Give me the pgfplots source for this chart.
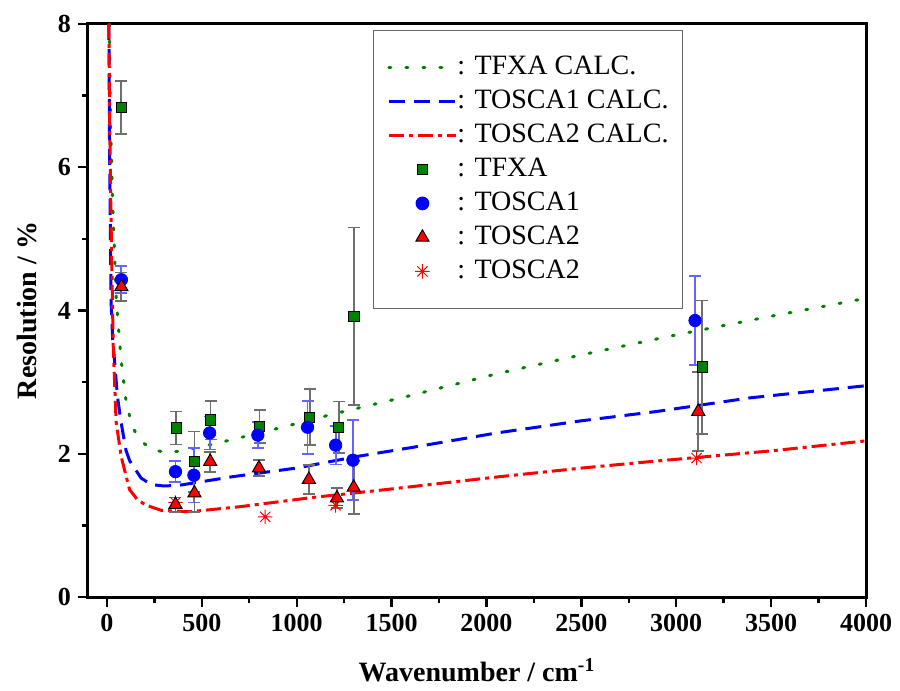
\documentclass[border=0pt]{standalone}
\usepackage{fontspec}
\setmainfont{Liberation Serif}
\usepackage{pgfplots}
\pgfplotsset{compat=1.18}
\definecolor{cgreen}{RGB}{0,128,0}
\definecolor{cblue}{RGB}{0,0,255}
\definecolor{cred}{RGB}{255,0,0}
\definecolor{ebgray}{RGB}{110,110,110}
\definecolor{ebblue}{RGB}{100,100,255}
\pgfdeclareplotmark{ast8}{%
  \pgfpathmoveto{\pgfqpoint{0pt}{\pgfplotmarksize}}\pgfpathlineto{\pgfqpoint{0pt}{-\pgfplotmarksize}}%
  \pgfpathmoveto{\pgfqpoint{\pgfplotmarksize}{0pt}}\pgfpathlineto{\pgfqpoint{-\pgfplotmarksize}{0pt}}%
  \pgfpathmoveto{\pgfqpoint{.7071\pgfplotmarksize}{.7071\pgfplotmarksize}}\pgfpathlineto{\pgfqpoint{-.7071\pgfplotmarksize}{-.7071\pgfplotmarksize}}%
  \pgfpathmoveto{\pgfqpoint{-.7071\pgfplotmarksize}{.7071\pgfplotmarksize}}\pgfpathlineto{\pgfqpoint{.7071\pgfplotmarksize}{-.7071\pgfplotmarksize}}%
  \pgfusepathqstroke}
\pgfplotsset{
  lineleg/.style={legend image code/.code={\draw[##1] (0pt,0pt) -- (33.5pt,0pt);}},
  markleg/.style={legend image code/.code={\draw[mark repeat=2,mark phase=2,##1] plot coordinates {(0pt,0pt)(16.75pt,0pt)(33.5pt,0pt)};}},
  starstyle/.style={only marks, mark=ast8, mark size=3.6pt, mark options={draw=cred, line width=0.5pt, solid}, markleg},
}
\begin{document}
\begin{tikzpicture}
\begin{axis}[
  name=ax,
  scale only axis, width=389pt, height=286.5pt,
  xmin=-100, xmax=4000, ymin=0, ymax=8,
  xtick={0,500,...,4000}, minor x tick num=1,
  ytick={0,2,...,8}, minor y tick num=1,
  tick align=outside, tick pos=left,
  major tick length=5pt, minor tick length=3pt,
  every tick/.style={black, line width=1.2pt},
  axis line style={line width=1.5pt},
  ticklabel style={font=\fontsize{13}{15}\selectfont\bfseries},
  /pgf/number format/assume math mode=true,
  /pgf/number format/1000 sep={},
  xlabel={Wavenumber / cm\textsuperscript{-1}},
  ylabel={Resolution / \%},
  label style={font=\fontsize{14}{16}\selectfont\bfseries},
  xlabel style={at={(axis description cs:0.5,-0.148)}, anchor=base},
  ylabel style={at={(axis description cs:-0.078,0.5)}, anchor=center},
  legend style={at={(0.366,0.990)}, anchor=north west, draw=black!60, line width=0.7pt,
    font=\fontsize{14}{16}\selectfont, inner xsep=7pt, inner ysep=10pt,
    nodes={inner xsep=0pt, inner ysep=2pt, text height=10pt, text depth=3pt}},
  legend cell align=left,
]
% calculated curves
\addplot[cgreen, line width=1.5pt, line cap=round, dash pattern=on 1pt off 7.5pt, lineleg] coordinates {
(12,8) (20,6.5) (30,5.5) (40,4.8) (50,4.1) (75,3.3) (100,2.75) (130,2.4) (170,2.2) (240,2.05) (320,2.02) (400,2.04) (600,2.16) (850,2.32) (1200,2.56) (1550,2.78) (2060,3.12) (2500,3.38) (3000,3.66) (3500,3.92) (4000,4.17)};
\addlegendentry{: TFXA CALC.}
\addplot[cblue, line width=1.5pt, dash pattern=on 8pt off 4.5pt, lineleg] coordinates {
(10,8) (13,6.5) (17,5.3) (22,4.1) (30,3.6) (40,3.3) (55,2.8) (75,2.43) (100,2.05) (120,1.9) (180,1.66) (233,1.57) (300,1.55) (382,1.56) (663,1.68) (998,1.80) (1314,1.96) (1612,2.09) (2053,2.29) (2500,2.46) (2897,2.59) (3388,2.78) (4000,2.95)};
\addlegendentry{: TOSCA1 CALC.}
\addplot[cred, line width=1.5pt, dash pattern=on 7.5pt off 2.5pt on 2pt off 2.5pt, lineleg] coordinates {
(10,8) (15,6.5) (20,5.5) (27,4.4) (33,3.5) (48,2.45) (75,1.96) (119,1.5) (160,1.36) (207,1.28) (286,1.21) (435,1.19) (699,1.26) (1085,1.39) (1437,1.49) (2070,1.68) (2500,1.80) (2861,1.89) (3500,2.04) (4000,2.18)};
\addlegendentry{: TOSCA2 CALC.}
% second TOSCA2 set (drawn behind the other marks)
\addplot[starstyle, forget plot]
  table[x=x, y=y] {
x y
361 1.32
834 1.12
1205 1.28
3107 1.94
};
% measured
\addplot[only marks, mark=square*, mark size=2.6pt, mark options={fill=cgreen, draw=black, line width=0.5pt, solid}, markleg,
  error bars/.cd, y dir=both, y explicit,
  error bar style={ebgray, line width=0.9pt, solid},
  error mark options={rotate=90, mark size=3pt, ebgray, line width=0.9pt}]
  table[x=x, y=y, y error=e] {
x y e
76 6.83 0.37
365 2.36 0.23
461 1.89 0.42
546 2.47 0.27
804 2.38 0.23
1068 2.51 0.39
1221 2.37 0.36
1301 3.92 1.24
3137 3.21 0.93
};
\addlegendentry{: TFXA}
\addplot[only marks, mark=*, mark size=3.1pt, mark options={fill=cblue, draw=cblue, solid}, markleg,
  error bars/.cd, y dir=both, y explicit,
  error bar style={ebblue, line width=0.9pt, solid},
  error mark options={rotate=90, mark size=3pt, ebblue, line width=0.9pt}]
  table[x=x, y=y, y error=e] {
x y e
76 4.43 0.19
361 1.75 0.15
458 1.70 0.38
541 2.29 0.23
795 2.26 0.18
1057 2.37 0.37
1205 2.12 0.27
1296 1.91 0.56
3099 3.86 0.62
};
\addlegendentry{: TOSCA1}
\addplot[only marks, mark=triangle*, mark size=3.8pt, mark options={fill=cred, draw=black, line width=0.5pt, solid}, markleg,
  error bars/.cd, y dir=both, y explicit,
  error bar style={ebgray, line width=0.9pt, solid},
  error mark options={rotate=90, mark size=3pt, ebgray, line width=0.9pt}]
  table[x=x, y=y, y error=e] {
x y e
76 4.33 0.20
361 1.29 0.10
461 1.45 0.26
544 1.89 0.14
801 1.80 0.11
1064 1.64 0.20
1212 1.38 0.14
1300 1.53 0.37
3116 2.59 0.55
};
\addlegendentry{: TOSCA2}
\addlegendimage{starstyle}
\addlegendentry{: TOSCA2}
\end{axis}
\pgfresetboundingbox
\path[use as bounding box] ([shift={(-44pt,-47pt)}]ax.south west) rectangle ([shift={(17pt,12pt)}]ax.north east);
\end{tikzpicture}
\end{document}
